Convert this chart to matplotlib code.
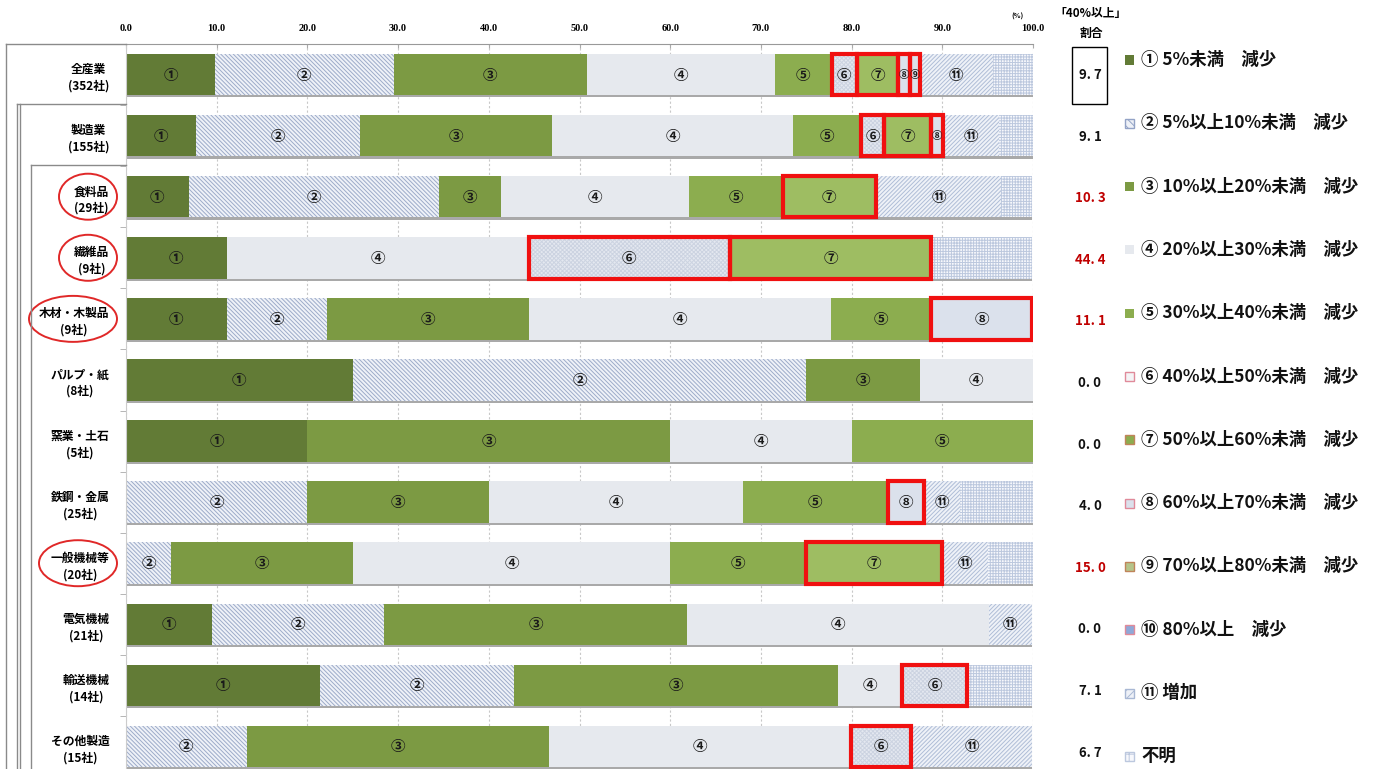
import matplotlib
matplotlib.use("Agg")
import matplotlib.pyplot as plt
from matplotlib.patches import Rectangle, Ellipse
from matplotlib.lines import Line2D
import numpy as np

plt.rcParams['font.family'] = ['Noto Sans CJK JP', 'DejaVu Sans']
plt.rcParams['hatch.linewidth'] = 0.7

# ---------------- data ----------------
categories = ['全産業\n(352社)', '製造業\n(155社)', '食料品\n(29社)', '繊維品\n(9社)',
              '木材・木製品\n(9社)', 'パルプ・紙\n(8社)', '窯業・土石\n(5社)', '鉄鋼・金属\n(25社)',
              '一般機械等\n(20社)', '電気機械\n(21社)', '輸送機械\n(14社)', 'その他製造\n(15社)']
circled = [False, False, True, True, True, False, False, False, True, False, False, False]

s1 = [9.8, 7.7, 6.9, 11.1, 11.1, 25.0, 20.0, 0, 0, 9.5, 21.4, 0]
s2 = [19.7, 18.1, 27.6, 0, 11.1, 50.0, 0, 20.0, 5.0, 19.0, 21.4, 13.3]
s3 = [21.3, 21.2, 6.9, 0, 22.2, 12.5, 40.0, 20.0, 20.0, 33.3, 35.7, 33.3]
s4 = [20.7, 26.5, 20.7, 33.3, 33.3, 12.5, 20.0, 28.0, 35.0, 33.3, 7.1, 33.3]
s5 = [6.3, 7.5, 10.3, 0, 11.1, 0, 20.0, 16.0, 15.0, 0, 0, 0]
s6 = [2.8, 2.6, 0, 22.2, 0, 0, 0, 0, 0, 0, 7.1, 6.7]
s7 = [4.5, 5.2, 10.3, 22.2, 0, 0, 0, 0, 15.0, 0, 0, 0]
s8 = [1.3, 1.3, 0, 0, 11.1, 0, 0, 4.0, 0, 0, 0, 0]
s9 = [1.1, 0, 0, 0, 0, 0, 0, 0, 0, 0, 0, 0]
s10 = [0, 0, 0, 0, 0, 0, 0, 0, 0, 0, 0, 0]
s11 = [8.1, 6.2, 13.8, 0, 0, 0, 0, 4.0, 5.0, 4.8, 0, 13.3]
s_unknown = [4.4, 3.7, 3.4, 11.1, 0, 0, 0, 8.0, 5.0, 0, 7.2, 0]

series = [s1, s2, s3, s4, s5, s6, s7, s8, s9, s10, s11, s_unknown]
seg_labels = ['①', '②', '③', '④', '⑤', '⑥', '⑦', '⑧', '⑨', '⑩', '⑪', '']
legend_labels = ['① 5%未満　減少', '② 5%以上10%未満　減少', '③ 10%以上20%未満　減少',
                 '④ 20%以上30%未満　減少', '⑤ 30%以上40%未満　減少', '⑥ 40%以上50%未満　減少',
                 '⑦ 50%以上60%未満　減少', '⑧ 60%以上70%未満　減少', '⑨ 70%以上80%未満　減少',
                 '⑩ 80%以上　減少', '⑪ 増加', '不明']
share40 = ['9.7', '9.1', '10.3', '44.4', '11.1', '0.0', '0.0', '4.0', '15.0', '0.0', '7.1', '6.7']
share40_red = [False, False, True, True, True, False, False, False, True, False, False, False]
xticks = [0, 10, 20, 30, 40, 50, 60, 70, 80, 90, 100]

# ---------------- styles ----------------
styles = [
    dict(fc='#627b36', hatch=None, hc='#627b36'),
    dict(fc='#eff2f8', hatch='\\\\\\\\\\\\\\\\', hc='#9dabc9'),
    dict(fc='#7c9a43', hatch=None, hc='#7c9a43'),
    dict(fc='#e6e9ee', hatch=None, hc='#e6e9ee'),
    dict(fc='#8cad4f', hatch=None, hc='#8cad4f'),
    dict(fc='#e4e8f0', hatch='xxxxxxxx', hc='#ccd3e1'),
    dict(fc='#9ebd62', hatch=None, hc='#9ebd62'),
    dict(fc='#dbe1ec', hatch=None, hc='#dbe1ec'),
    dict(fc='#dce1ea', hatch=None, hc='#dce1ea'),
    dict(fc='#8fa8d8', hatch=None, hc='#8fa8d8'),
    dict(fc='#eff2f8', hatch='////////', hc='#afbdd7'),
    dict(fc='#f7f8fc', hatch='++++++', hc='#bcc8de'),
]
legend_marker = [
    ('#627b36', None, '#627b36'), ('#eef1f7', '\\\\\\\\', '#93a3c6'), ('#7c9a43', None, '#7c9a43'),
    ('#e6e9ee', None, '#e6e9ee'), ('#8cad4f', None, '#8cad4f'), ('#f4f4f6', None, '#e08a9a'),
    ('#8cad4f', None, '#c0845a'), ('#dbe1ec', None, '#e08a9a'), ('#b5c48a', None, '#c0845a'),
    ('#8fa8d8', None, '#e08a9a'), ('#eef1f7', '////', '#a9b8d4'), ('#f7f8fc', '++', '#bcc8de'),
]

W, H = 1389, 769
def fx(px): return px / W
def fy(py): return 1 - py / H

fig = plt.figure(figsize=(W / 100, H / 100), dpi=100)
ax = fig.add_axes([fx(126), fy(777), fx(1033) - fx(126), fy(44) - fy(777)])

n = len(categories)
y = np.arange(n)
bh = 0.68

# shadow under each bar
totals = np.sum(np.array(series), axis=0)
ax.barh(y + 0.035, totals, height=bh, color='#a9a9a9', zorder=1, linewidth=0)

left = np.zeros(n)
for k, (vals, st) in enumerate(zip(series, styles)):
    vals = np.array(vals, dtype=float)
    ax.barh(y, vals, left=left, height=bh, color=st['fc'], edgecolor=st['hc'],
            hatch=st['hatch'], linewidth=0, zorder=2)
    if 5 <= k <= 9:
        for i in range(n):
            if vals[i] > 0:
                ax.add_patch(Rectangle((left[i], y[i] - bh / 2), vals[i], bh, fill=False,
                                       edgecolor='#f01010', linewidth=3.0, zorder=4))
    if seg_labels[k]:
        for i in range(n):
            if vals[i] > 0:
                fs = 10.5 if vals[i] >= 2 else 7.5
                ax.text(left[i] + vals[i] / 2, y[i], seg_labels[k], ha='center', va='center',
                        fontsize=fs, fontweight='bold', color='#1a1a1a', zorder=5)
    left += vals

ax.set_xlim(0, 100)
ax.set_ylim(n - 0.5, -0.5)
ax.xaxis.tick_top()
ax.set_xticks(xticks)
ax.set_xticklabels([f'{v:.1f}' for v in xticks], fontsize=7.5, fontweight='bold',
                   family='Liberation Serif')
ax.tick_params(axis='x', length=3, color='#aaaaaa', pad=8, direction='in')
ax.set_yticks(y)
ax.set_yticklabels(categories, fontsize=8.5, fontweight='bold', linespacing=1.35,
                   multialignment='center')
ax.tick_params(axis='y', length=0, pad=12)
ax.set_yticks(np.arange(n + 1) - 0.5, minor=True)
ax.tick_params(axis='y', which='minor', length=4, color='#aaaaaa')
ax.grid(axis='x', linestyle=(0, (2, 2)), color='#c8c8c8', linewidth=0.8, zorder=0)
ax.set_axisbelow(True)
for sp in ['right', 'bottom']:
    ax.spines[sp].set_visible(False)
ax.spines['top'].set_color('#999999')
ax.spines['left'].set_color('#cccccc')

# bracket lines on the left
def fline(x1, y1, x2, y2, **kw):
    fig.add_artist(Line2D([fx(x1), fx(x2)], [fy(y1), fy(y2)], color='#8a8a8a', lw=1.0, **kw))

fline(6, 44, 126, 44)
fline(6, 44, 6, 769)
fline(17, 104, 126, 104)
fline(17, 104, 17, 769)
fline(20, 104, 20, 769)
fline(31, 165, 126, 165)
fline(31, 165, 31, 769)

# red ellipses around labels
row_px = lambda i: 44 + (777 - 44) / n * (i + 0.5)
ell_w = {2: 58, 3: 58, 4: 88, 8: 78}
for i, c in enumerate(circled):
    if c:
        cxp = 120 - ell_w[i] / 2 - 3
        e = Ellipse((fx(cxp), fy(row_px(i))), fx(ell_w[i]), 46 / H, fill=False,
                    edgecolor='#e02828', lw=1.4, transform=fig.transFigure)
        fig.add_artist(e)

# right column: share of 40% or more
fig.text(fx(1018), fy(16), '(%)', fontsize=5, fontweight='bold', ha='center', va='center')
fig.text(fx(1091), fy(14), '「40%以上」', fontsize=8.5, fontweight='bold', ha='center', va='center')
fig.text(fx(1091), fy(33), '割合', fontsize=8.5, fontweight='bold', ha='center', va='center')
for i, (v, red) in enumerate(zip(share40, share40_red)):
    yy = 75 + 61.6 * i
    fig.text(fx(1090), fy(yy), v.replace('.', '. '), fontsize=9.5, fontweight='bold',
             ha='center', va='center', color='#c00000' if red else '#111111')
fig.add_artist(Rectangle((fx(1072), fy(104)), fx(35), 57 / H, fill=False, edgecolor='black',
                         lw=1.0, transform=fig.transFigure))

# legend
for i, (lab, (fc, hatch, ec)) in enumerate(zip(legend_labels, legend_marker)):
    yy = 60 + 63.3 * i
    fig.add_artist(Rectangle((fx(1125), fy(yy + 4.5)), fx(9), 9 / H, facecolor=fc,
                             edgecolor=ec, hatch=hatch, lw=1.0 if ec != fc else 0,
                             transform=fig.transFigure))
    fig.text(fx(1141), fy(yy), lab, fontsize=12.5, fontweight='bold', ha='left', va='center',
             color='#111111')

fig.savefig('out.png', dpi=100)
